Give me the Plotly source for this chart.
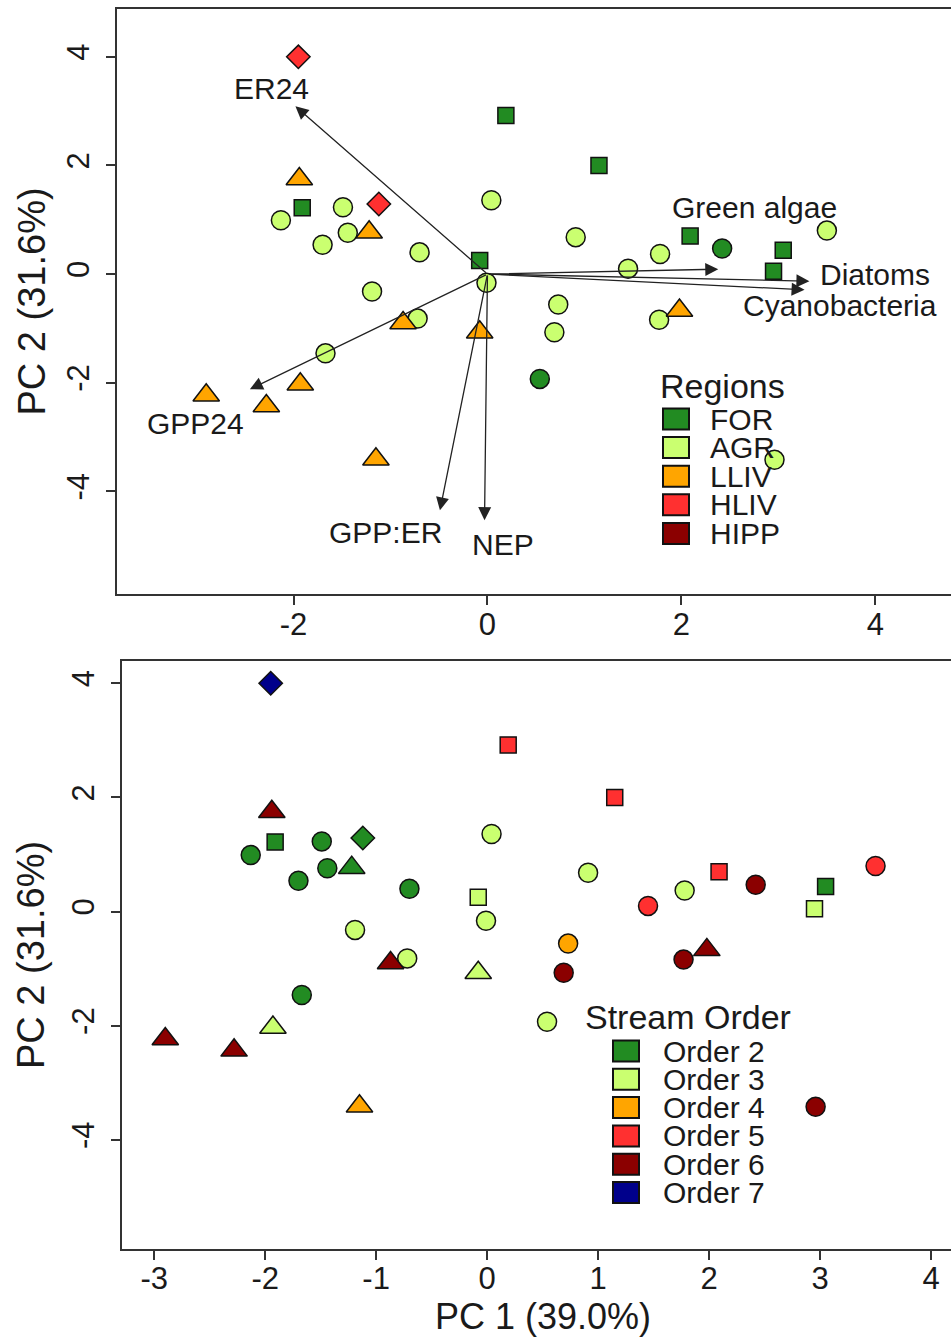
import plotly.graph_objects as go

# ---------------- data ----------------
pc1 = [-1.95, -1.94, -1.91, -2.13, -1.49, -1.12, -1.44, -1.22, -1.70, -0.70,
       -0.08, -0.01, -1.19, 0.04, 0.19, -0.87, -0.72, -0.08, 1.15, 0.91,
       0.73, 1.45, 1.78, 2.09, 2.42, 3.05, 2.95, 3.50, 1.77, 1.98,
       0.69, -1.67, -1.93, -2.90, -2.28, -1.15, 0.54, 2.96]
pc2 = [4.00, 1.75, 1.22, 0.99, 1.23, 1.29, 0.76, 0.77, 0.54, 0.40,
       0.25, -0.16, -0.32, 1.36, 2.92, -0.90, -0.82, -1.07, 2.00, 0.68,
       -0.56, 0.10, 0.37, 0.70, 0.47, 0.44, 0.05, 0.80, -0.84, -0.67,
       -1.07, -1.46, -2.03, -2.23, -2.43, -3.41, -1.93, -3.42]
site_shape = ["diamond", "triangle", "square", "circle", "circle", "diamond", "circle", "triangle", "circle", "circle",
              "square", "circle", "circle", "circle", "square", "triangle", "circle", "triangle", "square", "circle",
              "circle", "circle", "circle", "square", "circle", "square", "square", "circle", "circle", "triangle",
              "circle", "circle", "triangle", "triangle", "triangle", "triangle", "circle", "circle"]
region = ["HLIV", "LLIV", "FOR", "AGR", "AGR", "HLIV", "AGR", "LLIV", "AGR", "AGR",
          "FOR", "AGR", "AGR", "AGR", "FOR", "LLIV", "AGR", "LLIV", "FOR", "AGR",
          "AGR", "AGR", "AGR", "FOR", "FOR", "FOR", "FOR", "AGR", "AGR", "LLIV",
          "AGR", "AGR", "LLIV", "LLIV", "LLIV", "LLIV", "FOR", "AGR"]
stream_order = [7, 6, 2, 2, 2, 2, 2, 2, 2, 2,
                3, 3, 3, 3, 5, 6, 3, 3, 5, 3,
                4, 5, 3, 5, 6, 2, 3, 5, 6, 6,
                6, 2, 3, 6, 6, 4, 3, 6]

region_names = ["FOR", "AGR", "LLIV", "HLIV", "HIPP"]
order_values = [2, 3, 4, 5, 6, 7]
order_names = ["Order 2", "Order 3", "Order 4", "Order 5", "Order 6", "Order 7"]

loading_names = ["ER24", "Green algae", "Diatoms", "Cyanobacteria", "GPP24", "GPP:ER", "NEP"]
loading_pc1 = [-1.98, 2.38, 3.32, 3.27, -2.45, -0.49, -0.03]
loading_pc2 = [3.09, 0.09, -0.13, -0.29, -2.12, -4.35, -4.53]
label_pc1 = [-2.23, 2.75, 4.00, 3.64, -3.01, -1.05, 0.16]
label_pc2 = [3.41, 1.22, 0.00, -0.58, -2.75, -4.75, -4.97]

x_ticks_top = [-2, 0, 2, 4]
x_ticks_bottom = [-3, -2, -1, 0, 1, 2, 3, 4]
y_ticks = [-4, -2, 0, 2, 4]

# ---------------- styles ----------------
W, H = 951, 1339
FONT = "Liberation Sans, Arial, sans-serif"
TXT = "#1a1a1a"
region_colors = {"FOR": "#228B22", "AGR": "#CAFF70", "LLIV": "#FFA500", "HLIV": "#FF3030", "HIPP": "#8B0000"}
order_colors = {2: "#228B22", 3: "#CAFF70", 4: "#FFA500", 5: "#FF3030", 6: "#8B0000", 7: "#00008B"}
sym_map = {"circle": "circle", "square": "square", "triangle": "triangle-up", "diamond": "diamond"}
size_map = {"circle": 19, "square": 16, "triangle": 23, "diamond": 18}


def px_x(p):
    return p / W


def px_y(p):
    return 1 - p / H


def tick_text(vals):
    return [str(v) for v in vals]  # plain hyphen minus, as in the reference


fig = go.Figure()

# top panel points (coloured by region)
for r in region_names:
    idx = [i for i, v in enumerate(region) if v == r]
    if not idx:
        continue
    fig.add_trace(go.Scatter(
        x=[pc1[i] for i in idx], y=[pc2[i] for i in idx], mode="markers",
        xaxis="x", yaxis="y", showlegend=False, name=r,
        marker=dict(color=region_colors[r], opacity=1,
                    symbol=[sym_map[site_shape[i]] for i in idx],
                    size=[size_map[site_shape[i]] for i in idx],
                    line=dict(color="#111111", width=1.5))))

# bottom panel points (coloured by stream order)
for o, name in zip(order_values, order_names):
    idx = [i for i, v in enumerate(stream_order) if v == o]
    if not idx:
        continue
    fig.add_trace(go.Scatter(
        x=[pc1[i] for i in idx], y=[pc2[i] for i in idx], mode="markers",
        xaxis="x2", yaxis="y2", showlegend=False, name=name,
        marker=dict(color=order_colors[o], opacity=1,
                    symbol=[sym_map[site_shape[i]] for i in idx],
                    size=[size_map[site_shape[i]] for i in idx],
                    line=dict(color="#111111", width=1.5))))

annotations = []
shapes = []

# loading arrows + labels (top panel)
for n, lx, ly, tx, ty in zip(loading_names, loading_pc1, loading_pc2, label_pc1, label_pc2):
    annotations.append(dict(x=lx, y=ly, ax=0, ay=0, xref="x", yref="y", axref="x", ayref="y",
                            text="", showarrow=True, arrowhead=2, arrowsize=2.0, arrowwidth=1.3,
                            arrowcolor="#222222", standoff=0, startstandoff=0))
    annotations.append(dict(x=tx, y=ty, xref="x", yref="y", text=n, showarrow=False,
                            font=dict(family=FONT, size=30, color=TXT),
                            xanchor="center", yanchor="middle"))

# axis titles
annotations.append(dict(x=px_x(31), y=px_y(301.5), xref="paper", yref="paper", text="PC 2 (31.6%)",
                        textangle=-90, showarrow=False, font=dict(family=FONT, size=38, color=TXT),
                        xanchor="center", yanchor="middle"))
annotations.append(dict(x=px_x(31), y=px_y(955), xref="paper", yref="paper", text="PC 2 (31.6%)",
                        textangle=-90, showarrow=False, font=dict(family=FONT, size=38, color=TXT),
                        xanchor="center", yanchor="middle"))
annotations.append(dict(x=px_x(543), y=px_y(1316), xref="paper", yref="paper", text="PC 1 (39.0%)",
                        showarrow=False, font=dict(family=FONT, size=36, color=TXT),
                        xanchor="center", yanchor="middle"))


def add_legend(title, names, colors, title_x, title_y, key_x, text_x, row0, step):
    annotations.append(dict(x=px_x(title_x), y=px_y(title_y), xref="paper", yref="paper", text=title,
                            showarrow=False, font=dict(family=FONT, size=34, color=TXT),
                            xanchor="left", yanchor="middle"))
    for k, (nm, col) in enumerate(zip(names, colors)):
        cy = row0 + k * step
        shapes.append(dict(type="rect", xref="paper", yref="paper",
                           x0=px_x(key_x - 13), x1=px_x(key_x + 13),
                           y0=px_y(cy + 10.5), y1=px_y(cy - 10.5),
                           fillcolor=col, line=dict(color="#111111", width=2)))
        annotations.append(dict(x=px_x(text_x), y=px_y(cy), xref="paper", yref="paper", text=nm,
                                showarrow=False, font=dict(family=FONT, size=30, color=TXT),
                                xanchor="left", yanchor="middle"))


add_legend("Regions", region_names, [region_colors[r] for r in region_names],
           658, 386, 676, 708, 419, 28.6)
add_legend("Stream Order", order_names, [order_colors[o] for o in order_values],
           583, 1017, 626, 661, 1051, 28.3)

axis_common = dict(showgrid=False, zeroline=False, showline=True, linecolor="#333333", linewidth=2,
                   ticks="outside", ticklen=9, tickwidth=1.6, tickcolor="#333333",
                   tickfont=dict(family=FONT, size=31, color=TXT))

fig.update_layout(
    width=W, height=H, margin=dict(l=0, r=0, t=0, b=0),
    paper_bgcolor="white", plot_bgcolor="white", showlegend=False,
    xaxis=dict(domain=[px_x(117), 1], anchor="y", range=[-3.82, 4.78],
               tickmode="array", tickvals=x_ticks_top, ticktext=tick_text(x_ticks_top),
               mirror=True, ticklabelstandoff=-7, **axis_common),
    yaxis=dict(domain=[px_y(594), px_y(9)], anchor="x", range=[-5.89, 4.88],
               tickmode="array", tickvals=y_ticks, ticktext=tick_text(y_ticks),
               tickangle=-90, ticklabelstandoff=5, **axis_common),
    xaxis2=dict(domain=[px_x(122), 1], anchor="y2", range=[-3.29, 4.18],
                tickmode="array", tickvals=x_ticks_bottom, ticktext=tick_text(x_ticks_bottom),
                mirror=True, ticklabelstandoff=-8, **axis_common),
    yaxis2=dict(domain=[px_y(1249), px_y(661)], anchor="x2", range=[-5.91, 4.39],
                tickmode="array", tickvals=y_ticks, ticktext=tick_text(y_ticks),
                tickangle=-90, ticklabelstandoff=5, **axis_common),
    annotations=annotations, shapes=shapes,
)

fig.write_html("out.html")
